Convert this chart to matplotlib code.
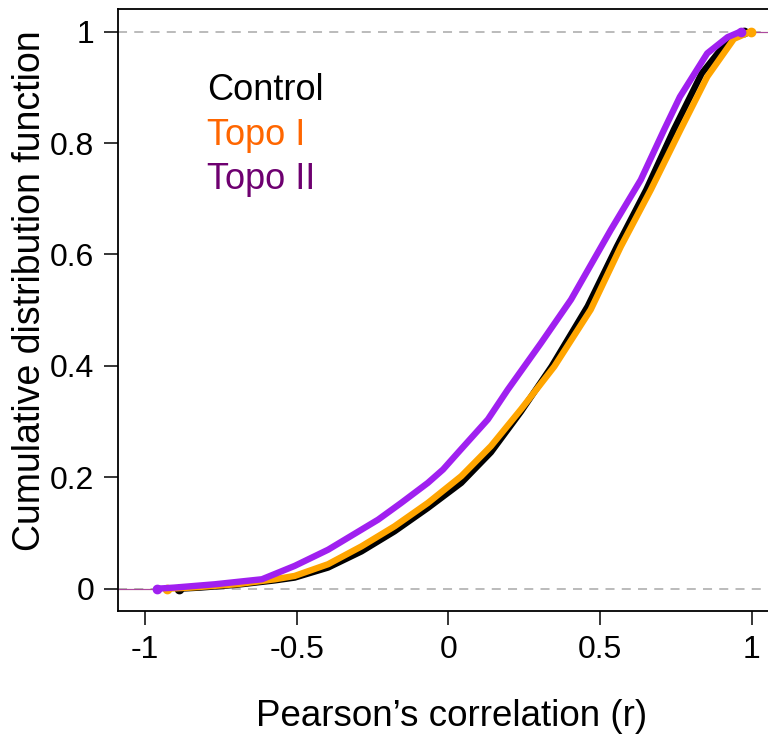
import matplotlib
matplotlib.use("Agg")
import matplotlib.pyplot as plt

plt.rcParams['font.family'] = ['Liberation Sans', 'DejaVu Sans']

# ECDF: correlation r and cumulative fraction
control_r = [-0.888, -0.82, -0.7, -0.572, -0.507, -0.397, -0.287, -0.178, -0.068, 0.042,
             0.14, 0.239, 0.34, 0.459, 0.555, 0.652, 0.743, 0.835, 0.93, 0.975]
control_cdf = [0.0, 0.002, 0.007, 0.015, 0.02, 0.038, 0.067, 0.103, 0.145, 0.19,
               0.245, 0.318, 0.399, 0.507, 0.614, 0.716, 0.824, 0.925, 0.99, 1.0]

topo1_r = [-0.929, -0.85, -0.7, -0.572, -0.507, -0.397, -0.287, -0.178, -0.068, 0.042,
           0.14, 0.239, 0.349, 0.469, 0.568, 0.667, 0.765, 0.853, 0.941, 0.996]
topo1_cdf = [0.0, 0.002, 0.008, 0.017, 0.023, 0.044, 0.076, 0.112, 0.154, 0.202,
             0.256, 0.322, 0.399, 0.501, 0.614, 0.716, 0.824, 0.919, 0.987, 1.0]

topo2_r = [-0.962, -0.905, -0.77, -0.615, -0.507, -0.397, -0.287, -0.232, -0.156, -0.068,
           -0.018, 0.031, 0.13, 0.195, 0.305, 0.404, 0.535, 0.634, 0.711, 0.763,
           0.853, 0.92, 0.963]
topo2_cdf = [0.0, 0.002, 0.008, 0.017, 0.041, 0.070, 0.106, 0.124, 0.154, 0.19,
             0.214, 0.244, 0.304, 0.357, 0.441, 0.519, 0.644, 0.734, 0.824, 0.883,
             0.961, 0.99, 1.0]

labels = ['Control', 'Topo I', 'Topo II']
line_colors = ['black', '#FFA500', '#A020F0']
text_colors = ['black', '#FF6600', '#6E0070']
xticks = [-1, -0.5, 0, 0.5, 1]
yticks = [0, 0.2, 0.4, 0.6, 0.8, 1]

fig = plt.figure(figsize=(7.68, 7.35), dpi=100)
ax = fig.add_axes([0.1535, 0.1687, 0.857, 0.8186])
xlim = (-1.09, 1.08)
ax.set_xlim(*xlim)
ax.set_ylim(-0.04, 1.04)

for yv in (0, 1):
    ax.axhline(yv, color='#B5B5B5', lw=1.3, ls=(0, (5, 4)), zorder=1)

series = [(control_r, control_cdf), (topo1_r, topo1_cdf), (topo2_r, topo2_cdf)]
for (r, c), col in zip(series, line_colors):
    ax.plot([xlim[0], r[0]], [0, 0], color=col, lw=0.8, alpha=0.6, zorder=2)
    ax.plot([r[-1], xlim[1]], [1, 1], color=col, lw=0.8, alpha=0.6, zorder=2)
    ax.plot(r, c, color=col, lw=4.6, solid_capstyle='round', solid_joinstyle='round',
            marker='o', markersize=6, markevery=[0, len(r) - 1], zorder=3)

for i, (lab, col) in enumerate(zip(labels, text_colors)):
    ax.text(0.135, 0.865 - i * 0.074, lab, color=col, fontsize=26,
            transform=ax.transAxes, ha='left', va='center')

ax.set_xticks(xticks)
ax.set_xticklabels(['-1', '-0.5', '0', '0.5', '1'])
ax.set_yticks(yticks)
ax.set_yticklabels(['0', '0.2', '0.4', '0.6', '0.8', '1'])
ax.tick_params(axis='both', labelsize=23, length=10, width=1.1, direction='out', pad=7)
for s in ax.spines.values():
    s.set_linewidth(1.3)

fig.text(0.588, 0.0245, "Pearson\u2019s correlation (r)", fontsize=26.5, ha='center', va='center')
fig.text(0.039, 0.605, "Cumulative distribution function", fontsize=27, ha='center',
         va='center', rotation=90)

fig.savefig('out.png', dpi=100)
